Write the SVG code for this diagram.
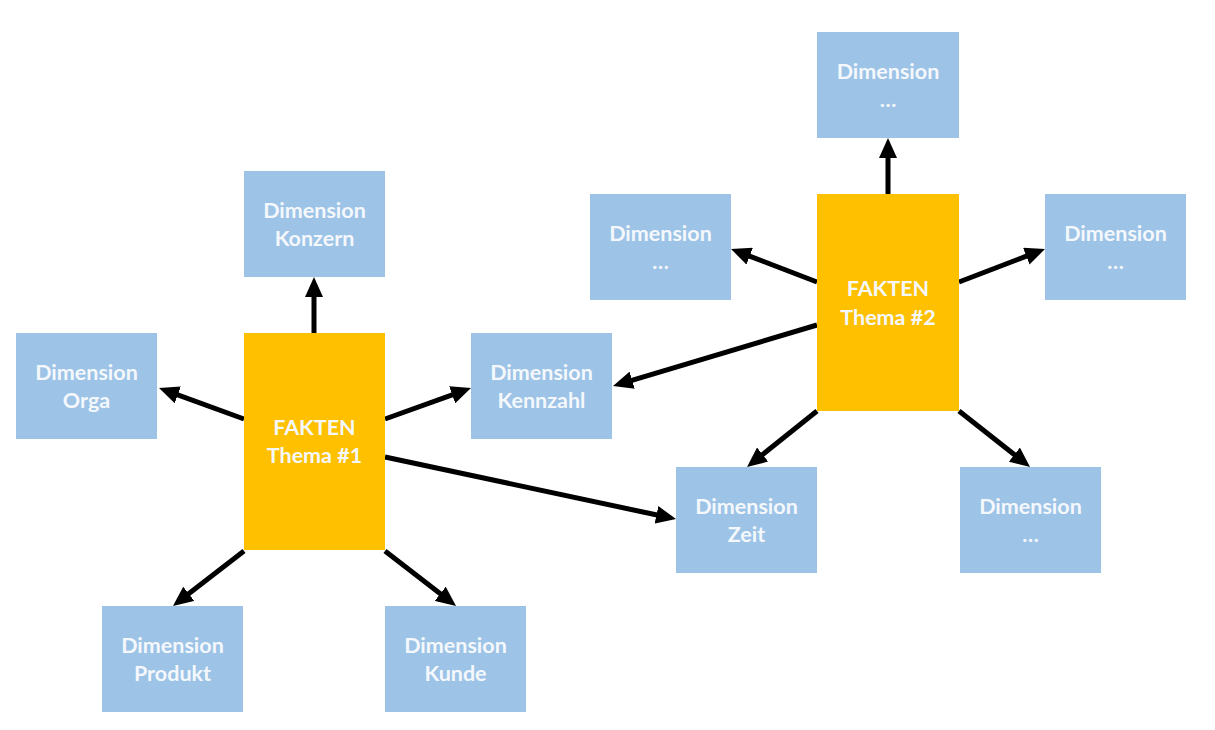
<svg xmlns="http://www.w3.org/2000/svg" width="1215" height="730" viewBox="0 0 1215 730">
<style>
.dim{fill:#9dc3e6}
.fact{fill:#ffc000}
.t{font-family:Lato,"Liberation Sans",sans-serif;font-weight:bold;font-size:21.5px;fill:#f4f8fc;text-anchor:middle}
.c{stroke:#000;stroke-width:5;fill:none;marker-end:url(#ah)}
</style>
<defs>
<marker id="ah" markerUnits="userSpaceOnUse" markerWidth="20" markerHeight="18" refX="3" refY="9" orient="auto">
<path d="M0,0 L20,9 L0,18 z" fill="#000"/>
</marker>
</defs>
<rect width="1215" height="730" fill="#fff"/>
<g id="connectors">
<line class="c" x1="314" y1="333" x2="314" y2="294"/>
<line class="c" x1="244" y1="419" x2="175" y2="393.8"/>
<line class="c" x1="385" y1="419" x2="455" y2="393.8"/>
<line class="c" x1="385" y1="457" x2="659.4" y2="515.5"/>
<line class="c" x1="244" y1="551" x2="186.4" y2="595.6"/>
<line class="c" x1="385" y1="551" x2="442.6" y2="595.6"/>
<line class="c" x1="888" y1="194" x2="888" y2="155"/>
<line class="c" x1="817" y1="282" x2="746.9" y2="255.1"/>
<line class="c" x1="959" y1="282" x2="1029.1" y2="255.1"/>
<line class="c" x1="817" y1="325" x2="629.3" y2="381.1"/>
<line class="c" x1="817" y1="411" x2="760.3" y2="456.4"/>
<line class="c" x1="959" y1="411" x2="1016.7" y2="456.5"/>
</g>
<g id="fakten1"><rect class="fact" x="244" y="333" width="141" height="217"/><text class="t" x="314.5" y="435">FAKTEN</text><text class="t" x="314.5" y="463">Thema #1</text></g>
<g id="fakten2"><rect class="fact" x="817" y="194" width="142" height="217"/><text class="t" x="888" y="296">FAKTEN</text><text class="t" x="888" y="325">Thema #2</text></g>
<g id="dim-konzern"><rect class="dim" x="244" y="171" width="141" height="106"/><text class="t" x="314.5" y="218">Dimension</text><text class="t" x="314.5" y="246">Konzern</text></g>
<g id="dim-orga"><rect class="dim" x="16" y="333" width="141" height="106"/><text class="t" x="86.5" y="380">Dimension</text><text class="t" x="86.5" y="408">Orga</text></g>
<g id="dim-kennzahl"><rect class="dim" x="471" y="333" width="141" height="106"/><text class="t" x="541.5" y="380">Dimension</text><text class="t" x="541.5" y="408">Kennzahl</text></g>
<g id="dim-produkt"><rect class="dim" x="102" y="606" width="141" height="106"/><text class="t" x="172.5" y="653">Dimension</text><text class="t" x="172.5" y="681">Produkt</text></g>
<g id="dim-kunde"><rect class="dim" x="385" y="606" width="141" height="106"/><text class="t" x="455.5" y="653">Dimension</text><text class="t" x="455.5" y="681">Kunde</text></g>
<g id="dim-zeit"><rect class="dim" x="676" y="467" width="141" height="106"/><text class="t" x="746.5" y="514">Dimension</text><text class="t" x="746.5" y="542">Zeit</text></g>
<g id="dim-top"><rect class="dim" x="817" y="32" width="142" height="106"/><text class="t" x="888" y="79">Dimension</text><text class="t" x="888" y="107">…</text></g>
<g id="dim-left"><rect class="dim" x="590" y="194" width="141" height="106"/><text class="t" x="660.5" y="241">Dimension</text><text class="t" x="660.5" y="269">…</text></g>
<g id="dim-right"><rect class="dim" x="1045" y="194" width="141" height="106"/><text class="t" x="1115.5" y="241">Dimension</text><text class="t" x="1115.5" y="269">…</text></g>
<g id="dim-bottomright"><rect class="dim" x="960" y="467" width="141" height="106"/><text class="t" x="1030.5" y="514">Dimension</text><text class="t" x="1030.5" y="542">…</text></g>
</svg>
